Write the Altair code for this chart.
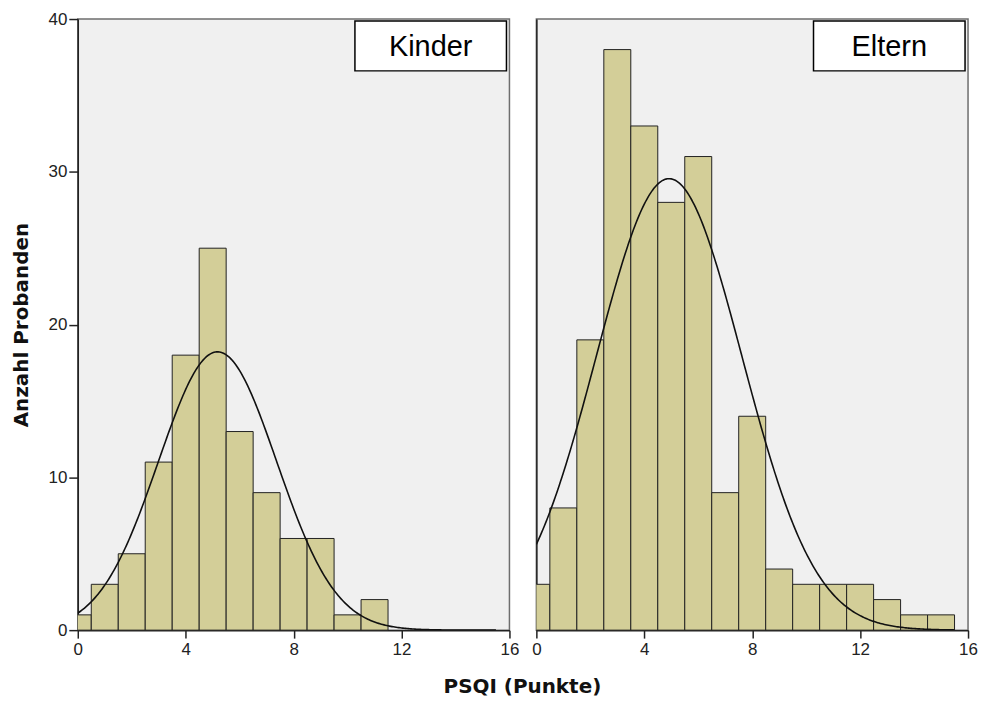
import altair as alt
import numpy as np
import pandas as pd

# Histogram data (PSQI score -> number of subjects)
scores_kinder = list(range(0, 12))
counts_kinder = [1, 3, 5, 11, 18, 25, 13, 9, 6, 6, 1, 2]
scores_eltern = list(range(0, 16))
counts_eltern = [3, 8, 19, 38, 33, 28, 31, 9, 14, 4, 3, 3, 3, 2, 1, 1]

# Normal-curve parameters
kinder_fit = {"mean": 5.18, "sd": 2.19, "n": 100}
eltern_fit = {"mean": 4.92, "sd": 2.70, "n": 200}

x_ticks = [0, 4, 8, 12, 16]
y_ticks = [0, 10, 20, 30, 40]
x_title = "PSQI (Punkte)"
y_title = "Anzahl Probanden"

BAR_FILL = "#d3ce98"
TICK_FONT = "Liberation Sans Narrow, Arial Narrow, Liberation Sans"
TITLE_FONT = "DejaVu Sans"
W, H = 433, 613


def panel(scores, counts, fit, label, show_y):
    bars = pd.DataFrame({
        "x0": [s - 0.5 for s in scores],
        "x1": [s + 0.5 for s in scores],
        "count": counts,
        "zero": [0] * len(scores),
    })
    xs = np.arange(0, 15.5001, 0.05)
    peak = fit["n"] / (fit["sd"] * np.sqrt(2 * np.pi))
    curve = pd.DataFrame({
        "x": xs,
        "y": peak * np.exp(-((xs - fit["mean"]) ** 2) / (2 * fit["sd"] ** 2)),
    })
    xscale = alt.Scale(domain=[0, 16], nice=False, zero=False)
    yscale = alt.Scale(domain=[0, 40], nice=False)
    xaxis = alt.Axis(values=x_ticks, title=None, tickSize=8, labelPadding=3,
                     labelFont=TICK_FONT, labelFontSize=17, grid=False,
                     labelFlush=False)
    if show_y:
        yaxis = alt.Axis(values=y_ticks, title=y_title, tickSize=9,
                         labelPadding=2, labelFont=TICK_FONT, labelFontSize=17,
                         titleFont=TITLE_FONT, titleFontSize=20,
                         titleFontWeight="bold", titlePadding=17, grid=False)
    else:
        yaxis = alt.Axis(values=y_ticks, title=None, labels=False, ticks=False,
                         grid=False)
    bar = alt.Chart(bars).mark_rect(
        clip=True, fill=BAR_FILL, stroke="#222222", strokeWidth=1
    ).encode(
        x=alt.X("x0:Q", scale=xscale, axis=xaxis),
        x2="x1:Q",
        y=alt.Y("count:Q", scale=yscale, axis=yaxis),
        y2="zero:Q",
    )
    line = alt.Chart(curve).mark_line(
        color="#111111", strokeWidth=1.6, clip=True
    ).encode(x="x:Q", y="y:Q")
    lab = pd.DataFrame({"t": [label]})
    box = alt.Chart(lab).mark_rect(
        fill="white", stroke="black", strokeWidth=1.5
    ).encode(x=alt.value(W - 155), x2=alt.value(W - 3), y=alt.value(2),
             y2=alt.value(52))
    txt = alt.Chart(lab).mark_text(
        font="Liberation Sans", fontSize=29, color="black", baseline="middle"
    ).encode(x=alt.value(W - 79), y=alt.value(28), text="t:N")
    layers = [bar, line, box, txt]
    if show_y:
        xt = alt.Chart(pd.DataFrame({"t": [x_title]})).mark_text(
            font=TITLE_FONT, fontSize=20, fontWeight="bold", color="#111111",
            baseline="middle"
        ).encode(x=alt.value(W + 13), y=alt.value(H + 57), text="t:N")
        layers.append(xt)
    return alt.layer(*layers).properties(width=W, height=H)


left = panel(scores_kinder, counts_kinder, kinder_fit, "Kinder", True)
right = panel(scores_eltern, counts_eltern, eltern_fit, "Eltern", False)

chart = alt.hconcat(left, right, spacing=27, bounds="flush").properties(
    padding={"left": 2, "top": 0, "right": 0, "bottom": 0},
).configure_view(
    fill="#f0f0f0", stroke="#6e6e6e", strokeWidth=1.5
).configure_axis(
    domainColor="#222222", domainWidth=1.5, tickColor="#222222", tickWidth=1.5,
    labelColor="#222222", titleColor="#111111"
)

chart.save("out.html", embed_options={"renderer": "svg", "actions": False})
